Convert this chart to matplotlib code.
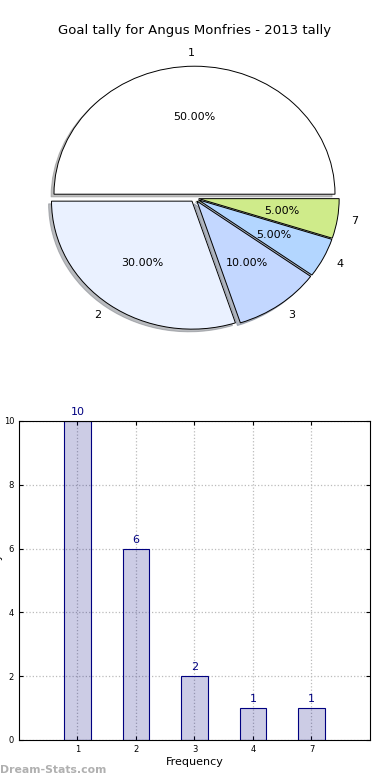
import matplotlib
matplotlib.use('Agg')
import matplotlib.pyplot as plt
import numpy as np

# Goals per game -> how many games
goal_labels = ['1', '2', '3', '4', '7']
frequency = [10, 6, 2, 1, 1]
pie_colors = ['#ffffff', '#eaf1ff', '#c3d7ff', '#b3d6ff', '#cfeb8a']

fig = plt.figure(figsize=(3.9, 7.8), dpi=100)

fig.text(0.5, 0.9615, 'Goal tally for Angus Monfries - 2013 tally',
         ha='center', va='center', fontsize=9.5)

# Pie (old style, not forced round)
ax1 = fig.add_axes([0.0664, 0.5492, 0.8646, 0.3938])
ax1.pie(frequency, labels=goal_labels, colors=pie_colors,
        explode=[0.03] * len(frequency), autopct='%.2f%%',
        shadow={'ox': -0.015, 'oy': -0.015, 'shade': 0.5},
        startangle=0, counterclock=True,
        wedgeprops={'edgecolor': 'black', 'linewidth': 0.7},
        textprops={'fontsize': 8})
ax1.set_aspect('auto')
ax1.set_xlim(-1.2, 1.2)
ax1.set_ylim(-1.2, 1.2)
ax1.axis('off')

# Bars
ax2 = fig.add_axes([0.0487, 0.0513, 0.9, 0.409])
x = np.arange(len(goal_labels))
ax2.bar(x, frequency, width=0.45, facecolor=(0, 0, 0.5, 0.2),
        edgecolor='navy', linewidth=0.8, zorder=2)
for xi, v in zip(x, frequency):
    ax2.text(xi, v + 0.12, str(v), ha='center', va='bottom',
             fontsize=8, color='navy')
ax2.set_xticks(x)
ax2.set_xticklabels(goal_labels)
ax2.set_xlim(-1, 5)
ax2.set_ylim(0, 10)
ax2.set_yticks(range(0, 11, 2))
ax2.grid(True, linestyle=':', color='#bbbbbb', linewidth=0.9, zorder=0)
ax2.set_axisbelow(True)
ax2.tick_params(labelsize=6, direction='in', length=3, top=True, right=True)
ax2.set_xlabel('Frequency', fontsize=8, labelpad=2)
ax2.set_ylabel('Goal Tally', fontsize=8)
ax2.yaxis.set_label_coords(-0.045, 0.5)

fig.text(0.0, 0.0128, 'Dream-Stats.com', ha='left', va='center',
         fontsize=7.8, color='#b0b0b0', weight='bold')

fig.savefig('out.png', dpi=100)
